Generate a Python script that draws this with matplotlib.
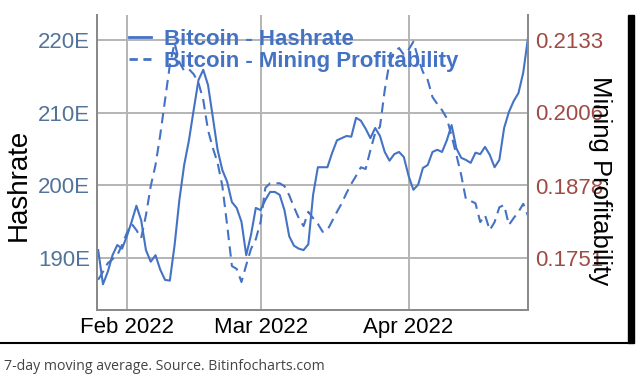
import numpy as np
import pandas as pd
import matplotlib
matplotlib.use('Agg')
import matplotlib.pyplot as plt
import matplotlib.dates as mdates
from matplotlib.lines import Line2D
from matplotlib.patches import Rectangle

# Daily values, 7-day moving average
dates = pd.date_range('2022-01-26', '2022-04-26', freq='D')

hashrate = [
    191.1, 186.4, 188.1, 190.4, 191.8, 191.3,
    193.0, 195.0, 197.2, 195.2, 191.1, 189.5, 190.4, 188.4, 187.0, 186.9,
    191.8, 198.0, 202.8, 206.2, 210.4, 214.5, 215.9, 213.8, 209.4, 204.9,
    202.1, 200.5, 197.7, 196.9, 195.0, 190.4, 193.2, 196.9,
    196.6, 198.0, 199.1, 199.1, 198.7, 196.6, 193.0, 191.7, 191.3, 191.1,
    191.9, 198.7, 202.5, 202.5, 202.5, 204.5, 206.2, 206.5, 206.8, 206.7,
    209.3, 208.9, 207.8, 206.5, 207.9, 206.8, 204.6, 203.4, 204.3, 204.6,
    203.9,
    201.3, 199.4, 200.1, 202.4, 202.8, 204.6, 204.9, 204.6, 206.2, 208.3,
    205.1, 203.8, 203.5, 203.1, 204.5, 204.3, 205.3, 204.2, 202.5, 203.5,
    207.9, 210.1, 211.6, 212.7, 215.5, 220.3,
]

profitability = [
    0.1713, 0.1727, 0.1742, 0.1749, 0.1756, 0.1774,
    0.1795, 0.1811, 0.1800, 0.1786, 0.1826, 0.1877, 0.1914, 0.1967, 0.2028, 0.2089,
    0.2128, 0.2094, 0.2079, 0.2082, 0.2073, 0.2058, 0.2028, 0.1975, 0.1944, 0.1918,
    0.1877, 0.1809, 0.1737, 0.1732, 0.1709, 0.1739, 0.1767, 0.1784,
    0.1814, 0.1874, 0.1882, 0.1882, 0.1882, 0.1877, 0.1861, 0.1840, 0.1821, 0.1807,
    0.1832, 0.1821, 0.1811, 0.1797, 0.1800, 0.1816, 0.1832, 0.1847, 0.1865, 0.1881,
    0.1895, 0.1910, 0.1907, 0.1940, 0.1970, 0.1981, 0.2045, 0.2094, 0.2112, 0.2119,
    0.2107,
    0.2116, 0.2130, 0.2101, 0.2077, 0.2063, 0.2033, 0.2021, 0.2010, 0.1996, 0.1965,
    0.1932, 0.1897, 0.1854, 0.1851, 0.1847, 0.1814, 0.1826, 0.1800, 0.1814, 0.1840,
    0.1844, 0.1809, 0.1821, 0.1832, 0.1846, 0.1825,
]

left_ticks = [190, 200, 210, 220]
left_labels = ['190E', '200E', '210E', '220E']
right_ticks = [0.1751, 0.1878, 0.2006, 0.2133]
right_labels = ['0.1751', '0.1878', '0.2006', '0.2133']
month_ticks = pd.to_datetime(['2022-02-01', '2022-03-01', '2022-04-01'])

line_color = '#4472c4'
left_color = '#52739a'
right_color = '#a04a44'

plt.rcParams['font.family'] = ['Liberation Sans', 'DejaVu Sans']

fig = plt.figure(figsize=(6.4, 3.79), dpi=100)
ax = fig.add_axes([97 / 640, 1 - 310 / 379, (528 - 97) / 640, (310 - 15) / 379])
ax2 = ax.twinx()

ax.plot(dates, hashrate, color=line_color, linewidth=1.5, label='Bitcoin - Hashrate')
ax2.plot(dates, profitability, color=line_color, linewidth=1.5, linestyle=(0, (5, 3)),
         label='Bitcoin - Mining Profitability')

ax.set_xlim(dates[0] - pd.Timedelta(hours=6), dates[-1])
ax.set_ylim(182.86, 223.44)
ax2.set_ylim(0.1660, 0.21768)

ax.set_yticks(left_ticks)
ax.set_yticklabels(left_labels)
ax2.set_yticks(right_ticks)
ax2.set_yticklabels(right_labels)
ax.set_xticks(month_ticks)
ax.xaxis.set_major_formatter(mdates.DateFormatter('%b %Y'))

ax.tick_params(axis='y', length=0, pad=5, labelsize=16, labelcolor=left_color)
ax2.tick_params(axis='y', length=0, pad=5, labelsize=16, labelcolor=right_color)
ax.tick_params(axis='x', length=0, pad=5, labelsize=16, labelcolor='black')

ax.grid(True, color='#b4b4b4', linewidth=1.4)
ax.set_axisbelow(True)

for a in (ax, ax2):
    a.spines['top'].set_visible(False)
    for s in ('left', 'right', 'bottom'):
        a.spines[s].set_color('#8a8a8a')
        a.spines[s].set_linewidth(1.4)

ax.set_ylabel('Hashrate', fontsize=20, color='black', va='center')
ax.yaxis.set_label_coords(-78 / 431, 0.424)
ax2.set_ylabel('Mining Profitability', fontsize=18.5, color='black', rotation=270,
               va='center')
ax2.yaxis.set_label_coords(1 + 72 / 431, 0.44)

handles = [Line2D([], [], color=line_color, linewidth=2),
           Line2D([], [], color=line_color, linewidth=2, linestyle=(0, (3, 2)))]
leg = ax.legend(handles, ['Bitcoin - Hashrate', 'Bitcoin - Mining Profitability'],
                loc='upper left', bbox_to_anchor=(0.027, 1.02), frameon=False,
                handlelength=1.0, handletextpad=0.6, labelspacing=0.05,
                prop={'weight': 'bold', 'size': 16})
for t in leg.get_texts():
    t.set_color(line_color)
leg.set_zorder(5)

# screenshot border lines
fig.add_artist(Line2D([0, 630 / 640], [1 - 343 / 379, 1 - 343 / 379],
                      color='black', linewidth=1.5, transform=fig.transFigure))
fig.add_artist(Rectangle((628 / 640, 1 - 343 / 379), 6 / 640, (343 - 15) / 379,
                         color='black', transform=fig.transFigure))

fig.text(4 / 640, 1 - 367 / 379, '7-day moving average. Source. Bitinfocharts.com',
         fontsize=10.2, color='#444444', family=['Open Sans', 'DejaVu Sans'],
         va='center', ha='left')

fig.savefig('out.png', dpi=100)
